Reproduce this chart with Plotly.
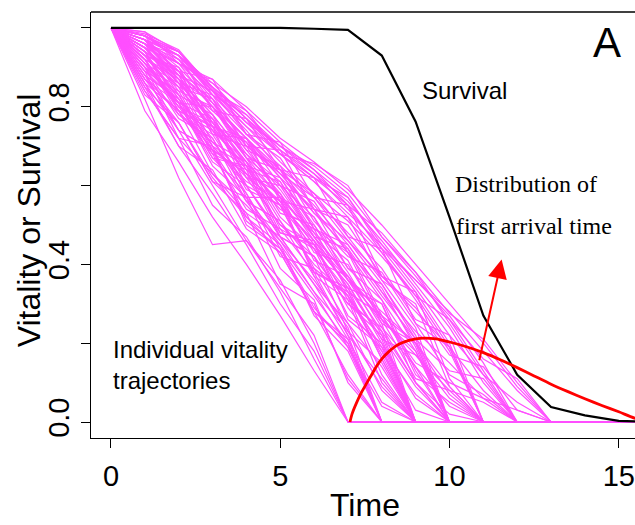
import plotly.graph_objects as go

# ---------------- data ----------------
time_steps = list(range(17))

# individual vitality trajectories (values at t = 0, 1, 2, ... until absorbed at 0)
trajectories = [
    [1, 0.79, 0.66, 0.52, 0.40, 0.27, 0.13, 0],
    [1, 0.86, 0.70, 0.58, 0.45, 0.30, 0.18, 0],
    [1, 0.84, 0.72, 0.55, 0.47, 0.33, 0.16, 0],
    [1, 0.88, 0.74, 0.60, 0.46, 0.36, 0.20, 0],
    [1, 0.82, 0.62, 0.45, 0.46, 0.34, 0.22, 0],
    [1, 0.90, 0.74, 0.69, 0.52, 0.45, 0.27, 0.18, 0],
    [1, 0.87, 0.76, 0.62, 0.52, 0.43, 0.28, 0.12, 0],
    [1, 0.92, 0.80, 0.69, 0.56, 0.45, 0.33, 0.19, 0],
    [1, 0.85, 0.76, 0.61, 0.53, 0.35, 0.30, 0.11, 0],
    [1, 0.93, 0.83, 0.70, 0.60, 0.47, 0.35, 0.21, 0],
    [1, 0.89, 0.72, 0.70, 0.50, 0.44, 0.28, 0.20, 0],
    [1, 0.91, 0.81, 0.65, 0.57, 0.46, 0.36, 0.24, 0],
    [1, 0.86, 0.79, 0.68, 0.54, 0.49, 0.38, 0.22, 0],
    [1, 0.94, 0.82, 0.72, 0.58, 0.44, 0.32, 0.20, 0],
    [1, 0.92, 0.81, 0.77, 0.60, 0.55, 0.39, 0.32, 0.12, 0],
    [1, 0.95, 0.86, 0.77, 0.66, 0.55, 0.44, 0.33, 0.18, 0],
    [1, 0.90, 0.83, 0.68, 0.64, 0.47, 0.42, 0.23, 0.15, 0],
    [1, 0.94, 0.88, 0.76, 0.68, 0.58, 0.46, 0.34, 0.21, 0],
    [1, 0.91, 0.80, 0.76, 0.62, 0.56, 0.38, 0.34, 0.16, 0],
    [1, 0.96, 0.87, 0.78, 0.67, 0.57, 0.48, 0.36, 0.23, 0],
    [1, 0.88, 0.82, 0.67, 0.65, 0.48, 0.46, 0.26, 0.19, 0],
    [1, 0.93, 0.85, 0.75, 0.64, 0.56, 0.45, 0.35, 0.20, 0],
    [1, 0.97, 0.89, 0.80, 0.69, 0.59, 0.47, 0.37, 0.25, 0],
    [1, 0.92, 0.79, 0.75, 0.57, 0.57, 0.37, 0.31, 0.10, 0],
    [1, 0.95, 0.87, 0.74, 0.66, 0.52, 0.44, 0.32, 0.17, 0],
    [1, 0.90, 0.81, 0.69, 0.63, 0.50, 0.42, 0.30, 0.22, 0],
    [1, 0.95, 0.85, 0.82, 0.67, 0.64, 0.49, 0.43, 0.26, 0.18, 0],
    [1, 0.97, 0.90, 0.81, 0.72, 0.62, 0.54, 0.43, 0.31, 0.18, 0],
    [1, 0.93, 0.89, 0.75, 0.71, 0.57, 0.52, 0.36, 0.30, 0.10, 0],
    [1, 0.96, 0.91, 0.83, 0.74, 0.64, 0.55, 0.45, 0.33, 0.20, 0],
    [1, 0.94, 0.81, 0.80, 0.68, 0.61, 0.47, 0.44, 0.27, 0.20, 0],
    [1, 0.98, 0.92, 0.82, 0.73, 0.65, 0.57, 0.46, 0.35, 0.22, 0],
    [1, 0.92, 0.88, 0.73, 0.72, 0.56, 0.54, 0.39, 0.31, 0.13, 0],
    [1, 0.96, 0.89, 0.80, 0.70, 0.63, 0.53, 0.44, 0.32, 0.21, 0],
    [1, 0.95, 0.87, 0.78, 0.67, 0.60, 0.56, 0.43, 0.34, 0.19, 0],
    [1, 0.97, 0.93, 0.84, 0.75, 0.66, 0.58, 0.47, 0.36, 0.24, 0],
    [1, 0.97, 0.89, 0.87, 0.73, 0.71, 0.57, 0.55, 0.37, 0.33, 0.11, 0],
    [1, 0.98, 0.94, 0.85, 0.77, 0.69, 0.62, 0.55, 0.43, 0.31, 0.18, 0],
    [1, 0.96, 0.93, 0.79, 0.77, 0.64, 0.62, 0.47, 0.44, 0.25, 0.19, 0],
    [1, 0.98, 0.93, 0.83, 0.78, 0.70, 0.63, 0.54, 0.44, 0.33, 0.20, 0],
    [1, 0.95, 0.86, 0.83, 0.70, 0.69, 0.54, 0.52, 0.36, 0.30, 0.09, 0],
    [1, 0.97, 0.91, 0.86, 0.77, 0.68, 0.61, 0.53, 0.45, 0.34, 0.22, 0],
    [1, 0.96, 0.92, 0.81, 0.72, 0.64, 0.58, 0.51, 0.42, 0.32, 0.19, 0],
    [1, 0.98, 0.94, 0.84, 0.76, 0.70, 0.65, 0.58, 0.47, 0.37, 0.26, 0.13, 0],
    [1, 0.97, 0.93, 0.85, 0.78, 0.69, 0.63, 0.56, 0.46, 0.35, 0.24, 0.10, 0],
    [1, 0.99, 0.94, 0.83, 0.75, 0.68, 0.62, 0.57, 0.44, 0.36, 0.27, 0.15, 0],
    [1, 0.98, 0.92, 0.84, 0.79, 0.71, 0.64, 0.55, 0.48, 0.38, 0.25, 0.12, 0],
    [1, 0.985, 0.945, 0.845, 0.76, 0.68, 0.656, 0.60, 0.47, 0.38, 0.276, 0.21, 0.10, 0],
    [1, 0.98, 0.93, 0.86, 0.80, 0.72, 0.66, 0.59, 0.50, 0.40, 0.30, 0.20, 0.09, 0],
    [1, 0.97, 0.94, 0.85, 0.77, 0.70, 0.64, 0.57, 0.45, 0.36, 0.28, 0.18, 0.08, 0],
    [1, 0.93, 0.85, 0.74, 0.65, 0.55, 0.46, 0.36, 0.26, 0.17, 0.08, 0.05, 0],
    [1, 0.95, 0.86, 0.76, 0.66, 0.57, 0.47, 0.37, 0.27, 0.15, 0.10, 0.06, 0.03, 0],
    [1, 0.91, 0.86, 0.71, 0.66, 0.49, 0.44, 0.27, 0.20, 0.06, 0],
    [1, 0.94, 0.79, 0.74, 0.59, 0.55, 0.38, 0.33, 0.16, 0],
    [1, 0.89, 0.84, 0.69, 0.63, 0.58, 0.41, 0.37, 0.22, 0.09, 0],
    [1, 0.96, 0.83, 0.78, 0.62, 0.60, 0.47, 0.34, 0.30, 0.12, 0.05, 0],
    [1, 0.87, 0.81, 0.67, 0.58, 0.42, 0.39, 0.25, 0.08, 0],
    [1, 0.93, 0.90, 0.76, 0.64, 0.61, 0.48, 0.41, 0.25, 0.20, 0.07, 0],
    [1, 0.90, 0.77, 0.72, 0.56, 0.51, 0.37, 0.22, 0.11, 0],
    [1, 0.95, 0.84, 0.80, 0.67, 0.53, 0.50, 0.38, 0.24, 0.14, 0.04, 0],
    [1, 0.83, 0.76, 0.61, 0.57, 0.39, 0.31, 0.10, 0],
    [1, 0.92, 0.87, 0.73, 0.70, 0.57, 0.43, 0.40, 0.26, 0.11, 0.08, 0],
    [1, 0.97, 0.86, 0.79, 0.71, 0.62, 0.49, 0.45, 0.33, 0.23, 0.15, 0.06, 0],
    [1, 0.88, 0.78, 0.73, 0.60, 0.48, 0.45, 0.29, 0.18, 0.03, 0],
    [1, 0.94, 0.89, 0.75, 0.72, 0.60, 0.52, 0.39, 0.35, 0.21, 0.13, 0.11, 0],
    [1, 0.86, 0.74, 0.69, 0.51, 0.44, 0.29, 0.19, 0.04, 0],
    [1, 0.95, 0.91, 0.80, 0.72, 0.63, 0.57, 0.48, 0.39, 0.26, 0.22, 0.12, 0.05, 0],
    [1, 0.91, 0.80, 0.75, 0.63, 0.54, 0.49, 0.33, 0.27, 0.14, 0],
    [1, 0.85, 0.70, 0.64, 0.49, 0.43, 0.28, 0.21, 0.05, 0],
    [1, 0.98, 0.88, 0.82, 0.70, 0.64, 0.53, 0.46, 0.37, 0.29, 0.17, 0.14, 0.03, 0],
    [1, 0.90, 0.85, 0.70, 0.61, 0.56, 0.45, 0.31, 0.23, 0.10, 0.02, 0],
    [1, 0.93, 0.82, 0.70, 0.65, 0.51, 0.40, 0.32, 0.19, 0.07, 0],
    [1, 0.96, 0.88, 0.84, 0.73, 0.67, 0.54, 0.50, 0.37, 0.28, 0.19, 0.08, 0],
    [1, 0.89, 0.81, 0.66, 0.60, 0.47, 0.42, 0.30, 0.24, 0.10, 0],
    [1, 0.92, 0.78, 0.71, 0.62, 0.50, 0.45, 0.35, 0.21, 0.17, 0.06, 0],
    [1, 0.87, 0.79, 0.63, 0.55, 0.46, 0.33, 0.23, 0.09, 0],
    [1, 0.97, 0.87, 0.81, 0.69, 0.65, 0.51, 0.42, 0.38, 0.25, 0.12, 0.07, 0],
    [1, 0.94, 0.86, 0.77, 0.65, 0.62, 0.50, 0.36, 0.28, 0.20, 0.09, 0],
    [1, 0.84, 0.72, 0.63, 0.53, 0.47, 0.35, 0.25, 0.14, 0],
    [1, 0.99, 0.91, 0.87, 0.79, 0.68, 0.61, 0.52, 0.43, 0.32, 0.26, 0.16, 0.11, 0],
]

# survival curve
surv_t = [0, 1, 2, 3, 4, 5, 6, 7, 8, 9, 10, 11, 12, 13, 14, 15, 16]
surv_v = [1, 1, 1, 1, 1, 1, 0.998, 0.995, 0.93, 0.762, 0.52, 0.27, 0.12,
          0.038, 0.017, 0.003, 0.0]

# distribution of first arrival time
fat_t = [7.06, 7.12, 7.25, 7.4, 7.55, 7.7, 7.85, 8.0, 8.2, 8.4, 8.6, 8.8,
         9.0, 9.25, 9.6, 10.0, 10.5, 11.0, 11.5, 12.0, 12.5, 13.0, 13.5,
         14.0, 14.5, 15.0, 15.5, 16.0]
fat_v = [0.0, 0.02, 0.048, 0.075, 0.098, 0.12, 0.142, 0.16, 0.178, 0.192,
         0.201, 0.207, 0.211, 0.213, 0.211, 0.203, 0.191, 0.176, 0.158,
         0.138, 0.117, 0.096, 0.077, 0.059, 0.042, 0.026, 0.009, 0.0]

x_ticks = [0, 5, 10, 15]
y_ticks = [0, 0.2, 0.4, 0.6, 0.8, 1.0]
y_ticktext = ["0.0", "", "0.4", "", "0.8", ""]

# ---------------- figure ----------------
MAGENTA = "#FF4FFF"
FONT = "Arial, Liberation Sans, sans-serif"
SERIF = "Times New Roman, Liberation Serif, serif"

fig = go.Figure()

for traj in trajectories:
    vals = traj + [0] * (len(time_steps) - len(traj))
    fig.add_trace(go.Scatter(x=time_steps, y=vals, mode="lines",
                             line=dict(color=MAGENTA, width=1.2),
                             hoverinfo="skip", showlegend=False))

fig.add_trace(go.Scatter(x=surv_t, y=surv_v, mode="lines",
                         line=dict(color="black", width=2.2),
                         showlegend=False))
fig.add_trace(go.Scatter(x=fat_t, y=fat_v, mode="lines",
                         line=dict(color="#FF0000", width=2.8, shape="spline",
                                   smoothing=0.8),
                         showlegend=False))

fig.update_layout(
    width=635, height=525,
    margin=dict(l=91, r=0, t=12, b=87),
    paper_bgcolor="white", plot_bgcolor="white",
    font=dict(family=FONT, color="black"),
    showlegend=False,
)
fig.update_xaxes(range=[-0.59, 15.48], tickvals=x_ticks, ticks="outside",
                 ticklen=9, tickwidth=1.3, tickcolor="black",
                 showline=True, linecolor="black", linewidth=1.3,
                 showgrid=False, zeroline=False, ticklabelstandoff=3,
                 tickfont=dict(size=29, family=FONT, color="black"))
fig.update_yaxes(range=[-0.0406, 1.0405], tickvals=y_ticks,
                 ticktext=y_ticktext, tickangle=-90, ticks="outside",
                 ticklen=9, tickwidth=1.3, tickcolor="black",
                 showline=True, linecolor="black", linewidth=1.3,
                 showgrid=False, zeroline=False,
                 tickfont=dict(size=29, family=FONT, color="black"))

# top border of the box
fig.add_shape(type="line", xref="paper", yref="paper", x0=0, x1=1, y0=1, y1=1,
              line=dict(color="black", width=1.3))

annos = [
    dict(text="Time", xref="paper", yref="paper", x=0.5037, y=-0.2042,
         xanchor="center", yanchor="bottom", font=dict(size=32, family=FONT)),
    dict(text="Vitality or Survival", xref="paper", yref="paper", x=-0.114,
         y=0.511, textangle=-90, xanchor="center", yanchor="middle",
         font=dict(size=32, family=FONT)),
    dict(text="Individual vitality<br>trajectories", x=0.0, y=0.145,
         xanchor="left", yanchor="middle", align="left",
         font=dict(size=24, family=FONT)),
    dict(text="Survival", x=10.45, y=0.842, xanchor="center", yanchor="middle",
         font=dict(size=24, family=FONT)),
    dict(text="Distribution of", x=10.1, y=0.603, xanchor="left",
         yanchor="middle", font=dict(size=24, family=SERIF)),
    dict(text="first arrival time", x=10.12, y=0.497, xanchor="left",
         yanchor="middle", font=dict(size=24, family=SERIF)),
    dict(text="A", x=14.66, y=0.964, xanchor="center", yanchor="middle",
         font=dict(size=42, family=FONT)),
]
for a in annos:
    fig.add_annotation(showarrow=False, **a)

# red arrow
fig.add_annotation(x=11.54, y=0.4125, ax=10.87, ay=0.153, axref="x", ayref="y",
                   text="", showarrow=True, arrowhead=2, arrowsize=1.9,
                   arrowwidth=2, arrowcolor="#FF0000", standoff=0)

fig.write_html("out.html")
